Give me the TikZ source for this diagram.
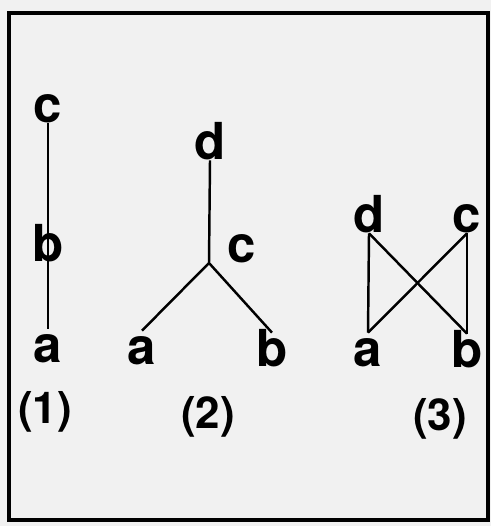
\documentclass[tikz,border=0pt]{standalone}
\usepackage{fontspec}
\setsansfont{TeX Gyre Heros}
\usepackage{tikz}
\definecolor{paper}{RGB}{241,241,241}

\begin{document}
\begin{tikzpicture}[
        frame/.style={
            draw=black,
            line width=2.3pt
          },
        vert/.style={
            inner sep=0pt,
            anchor=base,
            text height=0.68cm,
            text depth=0pt,
            font=\sffamily\bfseries\fontsize{29}{29}\selectfont
          },
        tag/.style={
            inner sep=0pt,
            anchor=base,
            font=\sffamily\bfseries\fontsize{25}{25}\selectfont
          },
        edge/.style={black, line width=1.4pt}
      ]
      \fill[paper] (0,0) rectangle (9.82,10.52);
      \draw[frame] (0.18,0.12) rectangle (9.76,10.26);

      \node[vert] (c1) at (0.96,8.06) {c};
      \node[vert] (b1) at (0.96,5.28) {b};
      \node[vert] (a1) at (0.96,3.26) {a};
      \node[tag] (tag1) at (0.90,2.04) {(1)};

      \draw[edge] (c1.south) -- (b1.center);
      \draw[edge] (b1.center) -- (a1.north);

      \node[vert] (d2) at (4.20,7.32) {d};
      \coordinate (j2) at (4.18,5.26);
      \node[vert] (c2) at (4.84,5.26) {c};
      \node[vert] (a2) at (2.84,3.22) {a};
      \node[vert] (b2) at (5.44,3.18) {b};
      \node[tag] (tag2) at (4.16,1.94) {(2)};

      \draw[edge] (d2.south) -- (j2);
      \draw[edge] (j2) -- (a2.north);
      \draw[edge] (j2) -- (b2.north);

      \node[vert] (d3) at (7.38,5.86) {d};
      \node[vert] (c3) at (9.34,5.86) {c};
      \node[vert] (a3) at (7.36,3.18) {a};
      \node[vert] (b3) at (9.34,3.16) {b};
      \node[tag] (tag3) at (8.80,1.90) {(3)};

      \draw[edge] (d3.south) -- (a3.north);
      \draw[edge] (d3.south) -- (b3.north);
      \draw[edge] (c3.south) -- (a3.north);
      \draw[edge] (c3.south) -- (b3.north);
    \end{tikzpicture}
\end{document}
